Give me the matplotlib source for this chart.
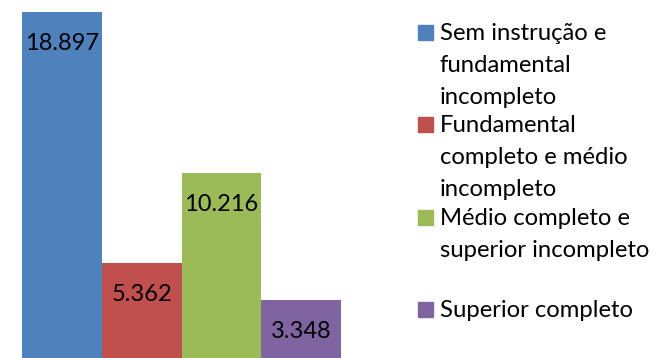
import matplotlib.pyplot as plt
from matplotlib.patches import Rectangle

categories = [
    "Sem instrução e\nfundamental\nincompleto",
    "Fundamental\ncompleto e médio\nincompleto",
    "Médio completo e\nsuperior incompleto",
    "Superior completo",
]
values = [18.897, 5.362, 10.216, 3.348]
labels = ["18.897", "5.362", "10.216", "3.348"]
colors = ["#4F81BD", "#C0504D", "#9BBB59", "#8064A2"]

W, H = 662, 358
plt.rcParams["font.family"] = ["Lato", "DejaVu Sans"]

fig = plt.figure(figsize=(W / 100, H / 100), dpi=100)
ax = fig.add_axes([22 / W, 0, 319 / W, 1])

x = range(len(values))
bars = ax.bar(x, values, width=1.0, color=colors)
for bar, text in zip(bars, labels):
    ax.annotate(text, (bar.get_x() + bar.get_width() / 2, bar.get_height()),
                xytext=(0, -27.4), textcoords="offset points",
                ha="center", va="baseline", fontsize=17, color="black")

ax.set_xlim(-0.5, 3.5)
ax.set_ylim(0.216, 19.55)
ax.axis("off")

# legend drawn by hand: square sits on the first line's baseline
for i, (label, color) in enumerate(zip(categories, colors)):
    base = 40 + 92.3 * i
    fig.patches.append(Rectangle((418 / W, 1 - base / H), 15 / W, 15 / H,
                                 transform=fig.transFigure, color=color))
    for j, line in enumerate(label.split("\n")):
        fig.text(440 / W, 1 - (base + 32 * j) / H, line, ha="left",
                 va="baseline", fontsize=17.2)

fig.savefig("out.png", dpi=100)
